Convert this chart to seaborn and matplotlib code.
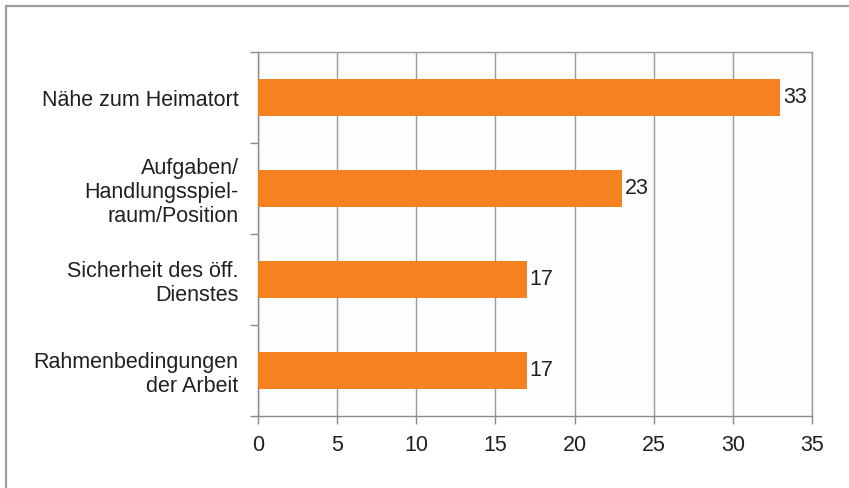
import matplotlib
matplotlib.use("Agg")
import matplotlib.pyplot as plt
import seaborn as sns
import pandas as pd
from matplotlib.lines import Line2D

categories = ["Nähe zum Heimatort",
              "Aufgaben/\nHandlungsspiel-\nraum/Position",
              "Sicherheit des öff.\nDienstes",
              "Rahmenbedingungen\nder Arbeit"]
values = [33, 23, 17, 17]
xticks = [0, 5, 10, 15, 20, 25, 30, 35]

sns.set_theme(style="white")
plt.rcParams['font.family'] = ['Liberation Sans', 'DejaVu Sans']

df = pd.DataFrame({"cat": categories, "val": values})

fig = plt.figure(figsize=(8.49, 4.88), dpi=100)
ax = fig.add_axes([258/849, 1-416/488, (812-258)/849, (416-52)/488])
ax.set_facecolor("#fcfdfc")

sns.barplot(data=df, y="cat", x="val", orient="h", color="#f58220",
            saturation=1, width=0.4, ax=ax, zorder=3, linewidth=0,
            edgecolor="none")

fs = 15.5
text_color = "#231f20"
for c in ax.containers:
    ax.bar_label(c, labels=[str(v) for v in values], padding=2,
                 fontsize=fs, color=text_color)

ax.set_xlim(0, 35)
ax.set_ylim(3.5, -0.5)
ax.set_xticks(xticks)
ax.set_xticklabels([str(t) for t in xticks])
ax.set_xlabel("")
ax.set_ylabel("")

ax.xaxis.grid(True, color="#9a9a9a", linewidth=1.0, zorder=0)
ax.set_axisbelow(True)

# y ticks at category boundaries
ax.set_yticks([-0.5, 0.5, 1.5, 2.5, 3.5], minor=False)
ax.set_yticklabels([])
ax.set_yticks([0, 1, 2, 3], minor=True)
ax.set_yticklabels(categories, minor=True, fontsize=fs, color=text_color,
                   linespacing=1.2, ha="right")
ax.tick_params(axis="y", which="major", left=True, length=6, width=1,
               color="#8a8a8a", direction="out")
ax.tick_params(axis="y", which="minor", left=False, length=0, pad=14)
ax.tick_params(axis="x", which="major", bottom=True, length=6, width=1,
               color="#8a8a8a", direction="out", labelsize=fs,
               labelcolor=text_color, pad=8)

for s in ["left", "bottom", "top", "right"]:
    ax.spines[s].set_visible(True)
    ax.spines[s].set_color("#9a9a9a")
    ax.spines[s].set_linewidth(1.0)
ax.spines["left"].set_color("#8a8a8a")
ax.spines["bottom"].set_color("#8a8a8a")

# figure frame (top and left lines)
fig.add_artist(Line2D([6/849, 1], [1-6/488, 1-6/488], color="#a0a0a0",
                      linewidth=1.6, transform=fig.transFigure))
fig.add_artist(Line2D([6/849, 6/849], [0, 1-6/488], color="#a0a0a0",
                      linewidth=1.6, transform=fig.transFigure))

fig.savefig("out.png", dpi=100)
